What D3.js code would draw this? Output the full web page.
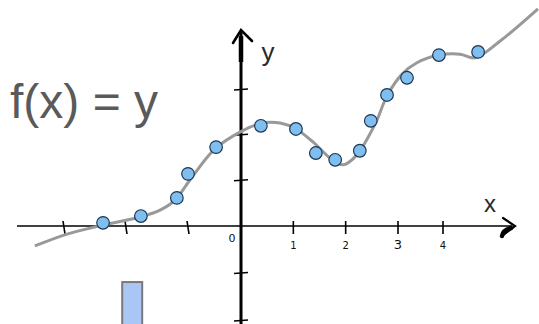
<!DOCTYPE html>
<html>
<head>
<meta charset="utf-8">
<script src="https://cdn.jsdelivr.net/npm/d3@7"></script>
<style>
  body { margin: 0; background: #fff; }
  svg { display: block; }
</style>
</head>
<body>
<svg id="chart"></svg>
<script>
var svgWidth = 539, svgHeight = 324;

// data (x, y in axis units)
var pointX = [-2.37, -1.76, -1.18, -1.00, -0.47, 0.38, 1.05, 1.43, 1.80, 2.27, 2.48, 2.79, 3.20, 3.91, 4.78];
var pointY = [0.07, 0.22, 0.62, 1.15, 1.74, 2.21, 2.14, 1.61, 1.46, 1.66, 2.32, 2.89, 3.27, 3.77, 3.84];

var curveX = [-3.47, -2.95, -2.37, -1.77, -1.45, -1.21, -0.96, -0.51, -0.02, 0.40, 0.75, 1.05, 1.38, 1.70,
              1.95, 2.12, 2.27, 2.43, 2.60, 2.79, 3.09, 3.42, 3.91, 4.38, 4.71, 5.27, 6.11];
var curveY = [-0.42, -0.17, 0.02, 0.20, 0.35, 0.57, 1.02, 1.68, 2.07, 2.27, 2.27, 2.14, 1.85, 1.50,
              1.35, 1.46, 1.66, 1.96, 2.34, 2.87, 3.35, 3.60, 3.77, 3.79, 3.71, 4.08, 4.79];

var xTicks = [-3, -2, -1, 1, 2, 3, 4];
var xTickLabels = ["1", "2", "3", "4"];   // only the right side is labelled
var yTicks = [-2, -1, 1, 2, 3];

var barX = [-1.90];
var barTop = [-1.18];
var barBottom = [-2.4];

var bar = d3.select("#chart").attr("width", svgWidth).attr("height", svgHeight);

// hand drawn axes are not evenly spaced
var x = d3.scaleLinear().domain([-3, -1, 0, 3, 4]).range([64, 188, 241, 398, 443]);
var y = d3.scaleLinear().domain([-2, 0, 3]).range([321, 226, 90]);

var x0 = x(0), y0 = y(0);

// stray bar
bar.selectAll("rect.bar").data(barX).enter().append("rect")
   .attr("class", "bar")
   .attr("x", function(d) { return x(d) - 10; })
   .attr("width", 20)
   .attr("y", function(d, i) { return y(barTop[i]); })
   .attr("height", function(d, i) { return y(barBottom[i]) - y(barTop[i]); })
   .style("fill", "#a9c6f4")
   .style("stroke", "#7a7a7a")
   .style("stroke-width", 2);

// x axis
bar.append("line").attr("x1", 17).attr("x2", 512).attr("y1", y0).attr("y2", y0)
   .style("stroke", "#000").style("stroke-width", 1.6);
bar.append("path")
   .attr("d", "M" + (x0 + 262) + "," + (y0 - 8) + " L" + (x0 + 274) + "," + y0 + " L" + (x0 + 262) + "," + (y0 + 9))
   .style("fill", "none").style("stroke", "#000").style("stroke-width", 2.2).style("stroke-linecap", "round");
bar.append("path")
   .attr("d", "M" + (x0 + 270) + "," + (y0 + 2) + " Q" + (x0 + 262) + "," + (y0 + 4) + " " + (x0 + 261) + "," + (y0 + 10))
   .style("fill", "none").style("stroke", "#000").style("stroke-width", 4.5).style("stroke-linecap", "round");

bar.selectAll("line.xtick").data(xTicks).enter().append("line")
   .attr("class", "xtick")
   .attr("x1", function(d) { return x(d) - (d < 0 ? 1 : 0); })
   .attr("x2", function(d) { return x(d) + (d < 0 ? 1 : 0); })
   .attr("y1", y0 - 5).attr("y2", y0 + 8)
   .style("stroke", "#000").style("stroke-width", 1.6);

bar.selectAll("text.xlab").data(xTicks.filter(function(d) { return d > 0; })).enter().append("text")
   .attr("class", "xlab")
   .attr("x", function(d) { return x(d); })
   .attr("y", y0 + 23)
   .attr("text-anchor", "middle")
   .style("font-family", "DejaVu Sans, sans-serif")
   .style("font-size", function(d, i) { return i == 2 ? "13px" : "10px"; })
   .style("fill", "#111")
   .text(function(d, i) { return xTickLabels[i]; });

bar.append("text").attr("x", x0 - 9).attr("y", y0 + 16)
   .attr("text-anchor", "middle")
   .style("font-family", "DejaVu Sans, sans-serif").style("font-size", "11px").style("fill", "#111")
   .text("0");

// y axis
bar.append("line").attr("x1", x0).attr("x2", x0).attr("y1", 32).attr("y2", svgHeight)
   .style("stroke", "#000").style("stroke-width", 3);
bar.append("line").attr("x1", x0).attr("x2", x0).attr("y1", 36).attr("y2", 62)
   .style("stroke", "#000").style("stroke-width", 4.5);
bar.append("path")
   .attr("d", "M" + (x0 - 8) + "," + 43 + " L" + x0 + "," + 30 + " L" + (x0 + 11) + "," + 41)
   .style("fill", "none").style("stroke", "#000").style("stroke-width", 2.6).style("stroke-linecap", "round");

bar.selectAll("line.ytick").data(yTicks).enter().append("line")
   .attr("class", "ytick")
   .attr("x1", x0 - 7).attr("x2", x0 + 7)
   .attr("y1", function(d) { return y(d); })
   .attr("y2", function(d) { return y(d) - 1; })
   .style("stroke", "#000").style("stroke-width", 1.5);

// axis names and title
bar.append("text").attr("x", x0 + 27).attr("y", 61)
   .attr("text-anchor", "middle")
   .style("font-family", "Liberation Sans, Arial, sans-serif").style("font-size", "26px").style("fill", "#2a2a2a")
   .text("y");
bar.append("text").attr("x", 490).attr("y", 212)
   .attr("text-anchor", "middle")
   .style("font-family", "Liberation Sans, Arial, sans-serif").style("font-size", "24px").style("fill", "#2a2a2a")
   .text("x");
bar.append("text").attr("x", 10).attr("y", 118)
   .style("font-family", "Liberation Sans, Arial, sans-serif").style("font-size", "48px").style("fill", "#5a5a5a")
   .text("f(x) = y");

// fitted curve
var line = d3.line()
   .x(function(d) { return x(curveX[d]); })
   .y(function(d) { return y(curveY[d]); })
   .curve(d3.curveCatmullRom.alpha(0.5));
bar.append("path").datum(d3.range(curveX.length))
   .attr("d", line)
   .style("fill", "none").style("stroke", "#999").style("stroke-width", 3);

// data points
bar.selectAll("circle.pt").data(pointX).enter().append("circle")
   .attr("class", "pt")
   .attr("cx", function(d) { return x(d); })
   .attr("cy", function(d, i) { return y(pointY[i]); })
   .attr("r", 6.3)
   .style("fill", "#7fbff0")
   .style("stroke", "#1e3552")
   .style("stroke-width", 1.2);
</script>
</body>
</html>
